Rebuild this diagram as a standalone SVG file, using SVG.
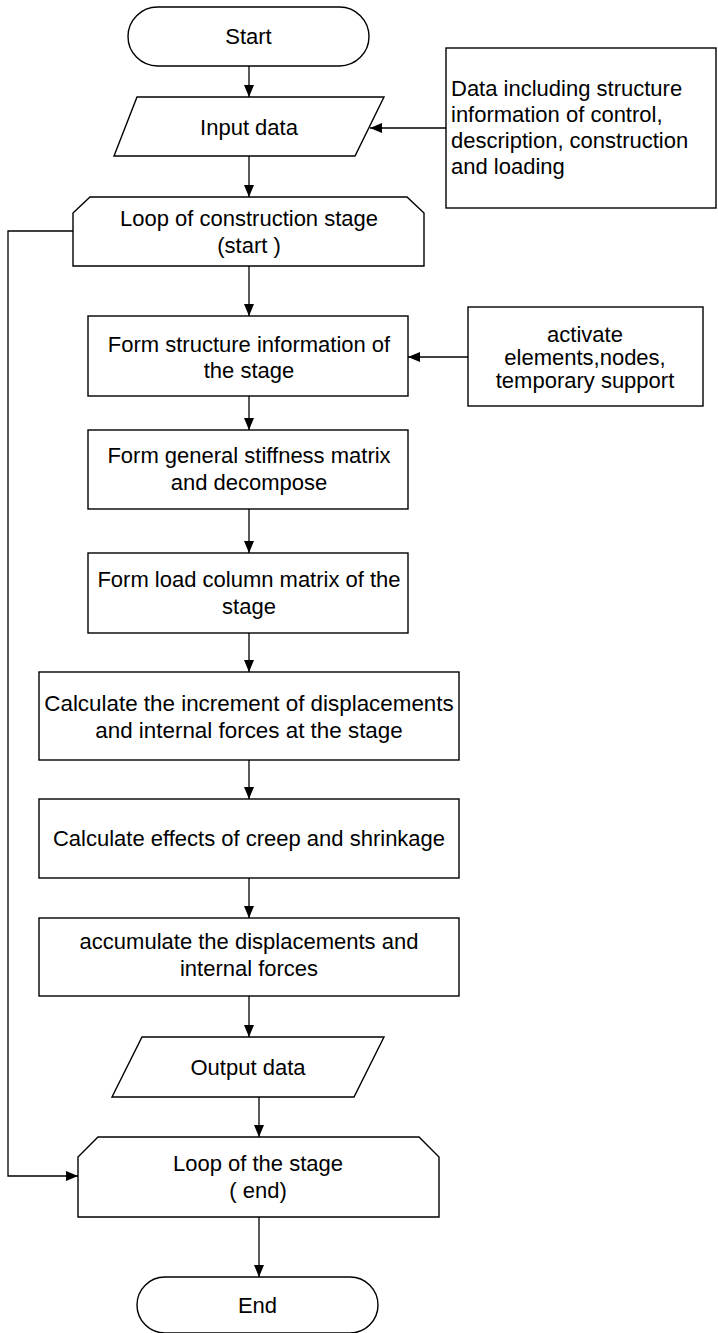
<svg xmlns="http://www.w3.org/2000/svg" width="718" height="1333" viewBox="0 0 718 1333">
<style>
.s{fill:#fff;stroke:#000;stroke-width:1.4}
.t{font-family:"Liberation Sans",Arial,sans-serif;font-size:22px;fill:#000;text-anchor:middle;dominant-baseline:central}
.l{text-anchor:start}
.c{fill:none;stroke:#000;stroke-width:1.3}
</style>
<defs>
<marker id="ah" viewBox="0 0 12 10" refX="12" refY="5" markerWidth="12" markerHeight="10" markerUnits="userSpaceOnUse" orient="auto">
<path d="M0,0 L12,5 L0,10 Z" fill="#000"/>
</marker>
</defs>
<rect width="718" height="1333" fill="#fff"/>
<g id="connectors">
<path class="c" d="M249,66 V97" marker-end="url(#ah)"/>
<path class="c" d="M446,128 H370" marker-end="url(#ah)"/>
<path class="c" d="M249,156 V197" marker-end="url(#ah)"/>
<path class="c" d="M73,231 H8 V1176 H78" marker-end="url(#ah)"/>
<path class="c" d="M249,266 V316" marker-end="url(#ah)"/>
<path class="c" d="M468,357 H408" marker-end="url(#ah)"/>
<path class="c" d="M249,396 V430" marker-end="url(#ah)"/>
<path class="c" d="M249,509 V553" marker-end="url(#ah)"/>
<path class="c" d="M249,633 V672" marker-end="url(#ah)"/>
<path class="c" d="M249,760 V799" marker-end="url(#ah)"/>
<path class="c" d="M249,878 V918" marker-end="url(#ah)"/>
<path class="c" d="M249,996 V1037" marker-end="url(#ah)"/>
<path class="c" d="M259,1097 V1137" marker-end="url(#ah)"/>
<path class="c" d="M259,1217 V1277" marker-end="url(#ah)"/>
</g>
<g id="start">
<rect class="s" x="128" y="7" width="241" height="59" rx="29.5"/>
<text class="t" x="248.5" y="36">Start</text>
</g>
<g id="input">
<path class="s" d="M137,97 H384 L355,156 H114 Z"/>
<text class="t" x="249" y="127">Input data</text>
</g>
<g id="data">
<rect class="s" x="446" y="48" width="270" height="160"/>
<text class="t l" x="451"><tspan x="451" y="88">Data including structure</tspan><tspan x="451" y="114">information of control,</tspan><tspan x="451" y="140">description, construction</tspan><tspan x="451" y="166">and loading</tspan></text>
</g>
<g id="loopstart">
<path class="s" d="M90,197 H407 L424,213 V266 H73 V213 Z"/>
<text class="t" x="249"><tspan x="249" y="218">Loop of construction stage</tspan><tspan x="249" y="245">(start )</tspan></text>
</g>
<g id="formstruct">
<rect class="s" x="88" y="316" width="320" height="80"/>
<text class="t" x="249"><tspan x="249" y="344">Form structure information of</tspan><tspan x="249" y="370">the stage</tspan></text>
</g>
<g id="activate">
<rect class="s" x="468" y="307" width="235" height="99"/>
<text class="t" x="585"><tspan x="585" y="334">activate</tspan><tspan x="585" y="357">elements,nodes,</tspan><tspan x="585" y="380">temporary support</tspan></text>
</g>
<g id="stiffness">
<rect class="s" x="88" y="430" width="320" height="79"/>
<text class="t" x="249"><tspan x="249" y="455">Form general stiffness matrix</tspan><tspan x="249" y="482">and decompose</tspan></text>
</g>
<g id="load">
<rect class="s" x="88" y="553" width="320" height="80"/>
<text class="t" x="249"><tspan x="249" y="579">Form load column matrix of the</tspan><tspan x="249" y="606">stage</tspan></text>
</g>
<g id="increment">
<rect class="s" x="39" y="672" width="420" height="88"/>
<text class="t" x="249" style="font-size:22.4px"><tspan x="249" y="703">Calculate the increment of displacements</tspan><tspan x="249" y="730">and internal forces at  the stage</tspan></text>
</g>
<g id="creep">
<rect class="s" x="39" y="799" width="420" height="79"/>
<text class="t" x="249" y="838">Calculate effects of creep and shrinkage</text>
</g>
<g id="accumulate">
<rect class="s" x="39" y="918" width="420" height="78"/>
<text class="t" x="249"><tspan x="249" y="941">accumulate the displacements and</tspan><tspan x="249" y="968">internal forces</tspan></text>
</g>
<g id="output">
<path class="s" d="M142,1037 H384 L354,1097 H112 Z"/>
<text class="t" x="248" y="1067">Output data</text>
</g>
<g id="loopend">
<path class="s" d="M98,1137 H419 L439,1157 V1217 H78 V1157 Z"/>
<text class="t" x="258"><tspan x="258" y="1163">Loop of the stage</tspan><tspan x="258" y="1190">( end)</tspan></text>
</g>
<g id="end">
<rect class="s" x="137" y="1277" width="241" height="56" rx="28"/>
<text class="t" x="257.5" y="1305">End</text>
</g>
</svg>
